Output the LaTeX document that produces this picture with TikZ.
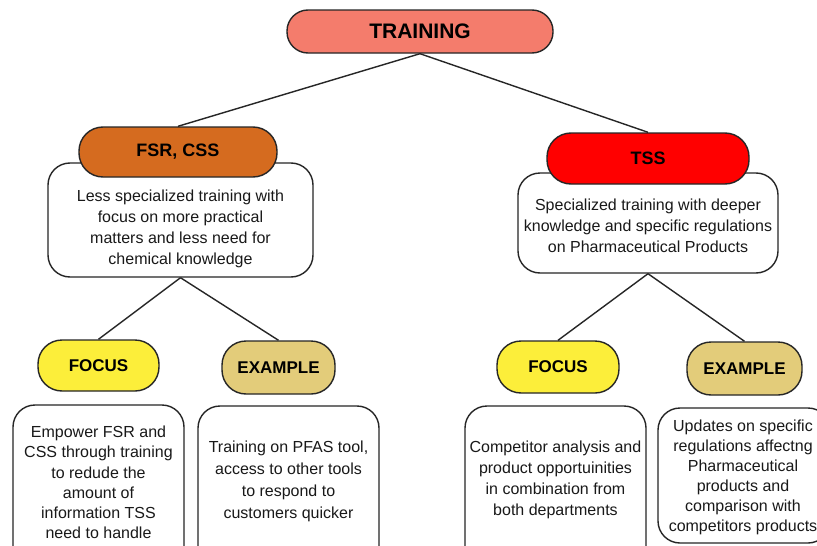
\documentclass[tikz,border=0pt]{standalone}
\usepackage{fontspec}
\setmainfont{Liberation Sans}
\definecolor{trainfill}{HTML}{F47C6C}
\definecolor{fsrfill}{HTML}{D56B1F}
\definecolor{tssfill}{HTML}{FF0000}
\definecolor{focusfill}{HTML}{FCEE3A}
\definecolor{examplefill}{HTML}{E3CC7A}
\begin{document}
\begin{tikzpicture}[x=1pt,y=-1pt,
  pill/.style={draw=black!85, line width=1.4pt, rounded corners=24pt, text=black,
    font=\bfseries\fontsize{17}{20}\selectfont},
  descbox/.style={draw=black!85, line width=1.4pt, rounded corners=22pt, fill=white},
  desctext/.style={align=center, text=black!90, font=\fontsize{16}{21}\selectfont},
  link/.style={line width=1.4pt, draw=black!85}]
  \useasboundingbox (0,0) rectangle (817,546);
  \clip (0,0) rectangle (817,546);
  \fill[white] (0,0) rectangle (817,546);
  % text boxes under the headings
  \node[descbox, minimum width=265pt, minimum height=114pt] (fsrdesc) at (180.5,220) {};
  \node[desctext] at (180.5,228.5) {Less specialized training with\\focus on more practical\\matters and less need for\\chemical knowledge};
  \node[descbox, minimum width=260pt, minimum height=100pt] (tssdesc) at (648,223) {};
  \node[desctext] at (648,226) {Specialized training with deeper\\knowledge and specific regulations\\on Pharmaceutical Products};
  \node[descbox, minimum width=171pt, minimum height=165pt] (focusLdesc) at (98.5,487.5) {};
  \node[desctext, font=\fontsize{16}{20.2}\selectfont] at (98.5,482.5) {Empower FSR and\\CSS through training\\to redude the\\amount of\\information TSS\\need to handle};
  \node[descbox, minimum width=181pt, minimum height=164pt] (exampleLdesc) at (288.5,488) {};
  \node[desctext, font=\fontsize{16}{22}\selectfont] at (288.5,481) {Training on PFAS tool,\\access to other tools\\to respond to\\customers quicker};
  \node[descbox, minimum width=181pt, minimum height=164pt] (focusRdesc) at (555.5,488) {};
  \node[desctext] at (555.5,480) {Competitor analysis and\\product opportuinities\\in combination from\\both departments};
  \node[descbox, minimum width=172pt, minimum height=135pt] (exampleRdesc) at (744,475.5) {};
  \node[desctext, font=\fontsize{16}{20}\selectfont] at (743,477) {Updates on specific\\regulations affectng\\Pharmaceutical\\products and\\comparison with\\competitors products};
  % headings
  \node[pill, fill=trainfill, minimum width=266pt, minimum height=43pt, rounded corners=21pt,
    font=\bfseries\fontsize{21}{24}\selectfont] (train) at (420,31.5) {TRAINING};
  \node[pill, fill=fsrfill, minimum width=198pt, minimum height=50pt,
    font=\bfseries\fontsize{18}{21}\selectfont] (fsr) at (178,152) {FSR, CSS};
  \node[pill, fill=tssfill, minimum width=202pt, minimum height=51pt,
    font=\bfseries\fontsize{18}{21}\selectfont] (tss) at (648,158.5) {TSS};
  \node[pill, fill=focusfill, minimum width=121pt, minimum height=51pt] (focusL) at (98.5,365.5) {FOCUS};
  \node[pill, fill=examplefill, minimum width=113pt, minimum height=53pt] (exampleL) at (278.5,367.5) {EXAMPLE};
  \node[pill, fill=focusfill, minimum width=122pt, minimum height=52pt] (focusR) at (558,367) {FOCUS};
  \node[pill, fill=examplefill, minimum width=115pt, minimum height=53pt] (exampleR) at (744.5,368.5) {EXAMPLE};
  % connectors
  \draw[link] (train.south) -- (fsr.north);
  \draw[link] (train.south) -- (tss.north);
  \draw[link] (fsrdesc.south) -- (focusL.north);
  \draw[link] (fsrdesc.south) -- (exampleL.north);
  \draw[link] (tssdesc.south) -- (focusR.north);
  \draw[link] (tssdesc.south) -- (exampleR.north);
\end{tikzpicture}
\end{document}
